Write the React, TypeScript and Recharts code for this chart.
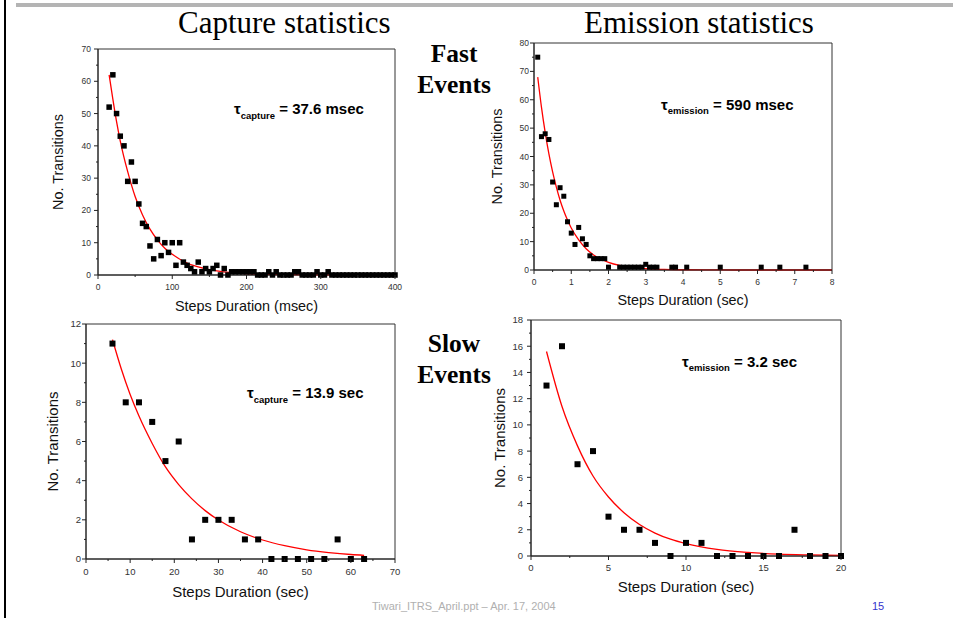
import React from 'react';
import { ComposedChart, Scatter, Line, XAxis, YAxis, ReferenceArea, Label } from 'recharts';

// ---------- Data ----------
// Capture statistics, fast events (msec)
const captureFastDuration = [15, 20, 25, 30, 35, 40, 45, 50, 55, 60, 65, 70, 75, 80, 85, 90, 95, 100, 105, 110, 115, 120, 125, 130, 135, 140, 145, 150, 155, 160, 165, 170, 175, 180, 185, 190, 195, 200, 205, 210, 215, 220, 225, 230, 235, 240, 245, 250, 255, 260, 265, 270, 275, 280, 285, 290, 295, 300, 305, 310, 315, 320, 325, 330, 335, 340, 345, 350, 355, 360, 365, 370, 375, 380, 385, 390, 395, 400];
const captureFastCount = [52, 62, 50, 43, 40, 29, 35, 29, 22, 16, 15, 9, 5, 11, 6, 10, 7, 10, 3, 10, 4, 3, 2, 1, 4, 1, 2, 1, 2, 3, 0, 2, 0, 1, 1, 1, 1, 1, 1, 1, 0, 0, 0, 1, 0, 1, 0, 0, 0, 0, 1, 1, 0, 0, 0, 0, 1, 0, 0, 1, 0, 0, 0, 0, 0, 0, 0, 0, 0, 0, 0, 0, 0, 0, 0, 0, 0, 0];
const captureFastFitX = [15, 20, 25, 30, 40, 50, 60, 70, 80, 90, 100, 120, 140, 160, 180, 200, 250, 300, 350, 400];
const captureFastFitY = [62, 54.5, 47.5, 41.5, 32, 24.3, 18.6, 14.2, 10.9, 8.3, 6.4, 3.7, 2.2, 1.3, 0.75, 0.44, 0.12, 0.03, 0.01, 0];

// Emission statistics, fast events (sec)
const emissionFastDuration = [0.1, 0.2, 0.3, 0.4, 0.5, 0.6, 0.7, 0.8, 0.9, 1.0, 1.1, 1.2, 1.3, 1.4, 1.5, 1.6, 1.7, 1.8, 1.9, 2.0, 2.3, 2.4, 2.5, 2.6, 2.7, 2.8, 2.9, 3.0, 3.1, 3.2, 3.3, 3.7, 3.8, 4.1, 5.0, 6.1, 6.6, 7.3];
const emissionFastCount = [75, 47, 48, 46, 31, 23, 29, 26, 17, 13, 9, 15, 11, 9, 5, 4, 4, 4, 4, 1, 1, 1, 1, 1, 1, 1, 1, 2, 1, 1, 1, 1, 1, 1, 1, 1, 1, 1];
const emissionFastFitX = [0.1, 0.2, 0.3, 0.4, 0.5, 0.6, 0.7, 0.8, 0.9, 1.0, 1.2, 1.4, 1.6, 1.8, 2.0, 2.3, 2.6, 3.0, 3.5, 4, 5, 6, 7, 8];
const emissionFastFitY = [68, 57.4, 48.5, 40.9, 34.6, 29.2, 24.6, 20.8, 17.6, 14.8, 10.6, 7.5, 5.3, 3.8, 2.7, 1.6, 0.98, 0.5, 0.2, 0.09, 0.02, 0, 0, 0];

// Capture statistics, slow events (sec)
const captureSlowDuration = [6, 9, 12, 15, 18, 21, 24, 27, 30, 33, 36, 39, 42, 45, 48, 51, 54, 57, 60, 63];
const captureSlowCount = [11, 8, 8, 7, 5, 6, 1, 2, 2, 2, 1, 1, 0, 0, 0, 0, 0, 1, 0, 0];
const captureSlowFitX = [6, 8, 10, 12, 15, 18, 21, 24, 27, 30, 35, 40, 45, 50, 55, 60, 63];
const captureSlowFitY = [11.2, 9.7, 8.4, 7.3, 5.9, 4.7, 3.8, 3.07, 2.47, 1.99, 1.39, 0.97, 0.68, 0.47, 0.33, 0.23, 0.19];

// Emission statistics, slow events (sec)
const emissionSlowDuration = [1, 2, 3, 4, 5, 6, 7, 8, 9, 10, 11, 12, 13, 14, 15, 16, 17, 18, 19, 20];
const emissionSlowCount = [13, 16, 7, 8, 3, 2, 2, 1, 0, 1, 1, 0, 0, 0, 0, 0, 2, 0, 0, 0];
const emissionSlowFitX = [1, 2, 3, 4, 5, 6, 7, 8, 9, 10, 12, 14, 16, 18, 20];
const emissionSlowFitY = [15.6, 11.4, 8.4, 6.1, 4.5, 3.3, 2.4, 1.75, 1.28, 0.94, 0.5, 0.27, 0.14, 0.08, 0.04];

// Ticks
const captureFastXMajor = [0, 100, 200, 300, 400];
const captureFastXMinor = [50, 150, 250, 350];
const captureFastYMajor = [0, 10, 20, 30, 40, 50, 60, 70];
const captureFastYMinor = [5, 15, 25, 35, 45, 55, 65];

const emissionFastXMajor = [0, 1, 2, 3, 4, 5, 6, 7, 8];
const emissionFastXMinor = [0.5, 1.5, 2.5, 3.5, 4.5, 5.5, 6.5, 7.5];
const emissionFastYMajor = [0, 10, 20, 30, 40, 50, 60, 70, 80];
const emissionFastYMinor = [5, 15, 25, 35, 45, 55, 65, 75];

const captureSlowXMajor = [0, 10, 20, 30, 40, 50, 60, 70];
const captureSlowXMinor = [5, 15, 25, 35, 45, 55, 65];
const captureSlowYMajor = [0, 2, 4, 6, 8, 10, 12];
const captureSlowYMinor = [1, 3, 5, 7, 9, 11];

const emissionSlowXMajor = [0, 5, 10, 15, 20];
const emissionSlowXMinor = [2.5, 7.5, 12.5, 17.5];
const emissionSlowYMajor = [0, 2, 4, 6, 8, 10, 12, 14, 16, 18];
const emissionSlowYMinor = [1, 3, 5, 7, 9, 11, 13, 15, 17];

const zip = (xs: number[], ys: number[]) => xs.map((x, i) => ({ x, y: ys[i] }));

const SANS = '"Liberation Sans", Arial, Helvetica, sans-serif';
const SERIF = '"Liberation Serif", "Times New Roman", serif';

const makeXTick = (majors: number[], fs: number, dy: number) => (props: any) => {
  const { x, y, payload } = props;
  const v = payload.value;
  const major = majors.includes(v);
  return (
    <g>
      <line x1={x} x2={x} y1={y} y2={y + (major ? 4 : 2)} stroke="#222" strokeWidth={1} />
      {major && (
        <text x={x} y={y + dy} textAnchor="middle" fontSize={fs} fill="#333" fontFamily={SANS}>
          {v}
        </text>
      )}
    </g>
  );
};

const makeYTick = (majors: number[], fs: number, gap: number) => (props: any) => {
  const { x, y, payload } = props;
  const v = payload.value;
  const major = majors.includes(v);
  return (
    <g>
      <line x1={x} x2={x - (major ? 4 : 2)} y1={y} y2={y} stroke="#222" strokeWidth={1} />
      {major && (
        <text x={x - gap} y={y} dy="0.36em" textAnchor="end" fontSize={fs} fill="#333" fontFamily={SANS}>
          {v}
        </text>
      )}
    </g>
  );
};

interface PanelProps {
  left: number;
  top: number;
  width: number;
  height: number;
  margin: { top: number; right: number; bottom: number; left: number };
  yAxisWidth: number;
  xAxisHeight: number;
  xDomain: [number, number];
  yDomain: [number, number];
  xMajor: number[];
  xMinor: number[];
  yMajor: number[];
  yMinor: number[];
  points: { x: number; y: number }[];
  fit: { x: number; y: number }[];
  xTitle: string;
  xTitleOffset: number;
  yTitleOffset: number;
  titleSize: number;
  tickSize: number;
  xTickDy: number;
  yTickGap: number;
  marker: number;
}

const Panel = (p: PanelProps) => {
  const half = p.marker / 2;
  return (
    <div style={{ position: 'absolute', left: p.left, top: p.top }}>
      <ComposedChart width={p.width} height={p.height} margin={p.margin}>
        <XAxis
          type="number"
          dataKey="x"
          domain={p.xDomain}
          ticks={[...p.xMajor, ...p.xMinor]}
          interval={0}
          tickSize={0}
          tickMargin={0}
          tickLine={false}
          axisLine={{ stroke: '#222' }}
          height={p.xAxisHeight}
          tick={makeXTick(p.xMajor, p.tickSize, p.xTickDy)}
        >
          <Label
            value={p.xTitle}
            position="insideBottom"
            offset={p.xTitleOffset}
            fontSize={p.titleSize}
            fill="#111"
            fontFamily={SANS}
          />
        </XAxis>
        <YAxis
          type="number"
          dataKey="y"
          domain={p.yDomain}
          ticks={[...p.yMajor, ...p.yMinor]}
          interval={0}
          tickSize={0}
          tickMargin={0}
          tickLine={false}
          axisLine={{ stroke: '#222' }}
          width={p.yAxisWidth}
          tick={makeYTick(p.yMajor, p.tickSize, p.yTickGap)}
        >
          <Label
            value="No. Transitions"
            angle={-90}
            position="insideLeft"
            offset={p.yTitleOffset}
            fontSize={p.titleSize}
            fill="#111"
            fontFamily={SANS}
            style={{ textAnchor: 'middle' }}
          />
        </YAxis>
        <ReferenceArea
          x1={p.xDomain[0]}
          x2={p.xDomain[1]}
          y1={p.yDomain[0]}
          y2={p.yDomain[1]}
          fill="none"
          stroke="#333"
          strokeWidth={1}
          ifOverflow="visible"
        />
        <Scatter
          data={p.points}
          dataKey="y"
          isAnimationActive={false}
          shape={(s: any) => (
            <rect x={s.cx - half} y={s.cy - half} width={p.marker} height={p.marker} fill="#000" />
          )}
        />
        <Line
          data={p.fit}
          dataKey="y"
          type="monotone"
          dot={false}
          activeDot={false}
          stroke="#ff0000"
          strokeWidth={1.3}
          isAnimationActive={false}
        />
      </ComposedChart>
    </div>
  );
};

const Tau = ({ x, y, sub, rest, dy }: { x: number; y: number; sub: string; rest: string; dy: number }) => (
  <text x={x} y={y} fontFamily={SANS} fontWeight="bold" fontSize={15} fill="#000">
    τ
    <tspan fontSize={9.5} dy={dy}>{sub}</tspan>
    <tspan fontSize={15} dy={-dy}>{rest}</tspan>
  </text>
);

export default function App() {
  return (
    <div
      style={{
        position: 'absolute',
        left: 0,
        top: 0,
        width: 953,
        height: 618,
        background: '#fff',
        overflow: 'hidden',
      }}
    >
      <Panel
        left={40}
        top={35}
        width={370}
        height={285}
        margin={{ top: 14, right: 15, bottom: 0, left: 0 }}
        yAxisWidth={58}
        xAxisHeight={45}
        xDomain={[0, 400]}
        yDomain={[0, 70]}
        xMajor={captureFastXMajor}
        xMinor={captureFastXMinor}
        yMajor={captureFastYMajor}
        yMinor={captureFastYMinor}
        points={zip(captureFastDuration, captureFastCount)}
        fit={zip(captureFastFitX, captureFastFitY)}
        xTitle="Steps Duration (msec)"
        xTitleOffset={9}
        yTitleOffset={18}
        titleSize={14.4}
        tickSize={8.5}
        xTickDy={15}
        yTickGap={7}
        marker={5.5}
      />
      <Panel
        left={480}
        top={30}
        width={365}
        height={285}
        margin={{ top: 13, right: 13, bottom: 0, left: 0 }}
        yAxisWidth={54}
        xAxisHeight={45}
        xDomain={[0, 8]}
        yDomain={[0, 80]}
        xMajor={emissionFastXMajor}
        xMinor={emissionFastXMinor}
        yMajor={emissionFastYMajor}
        yMinor={emissionFastYMinor}
        points={zip(emissionFastDuration, emissionFastCount)}
        fit={zip(emissionFastFitX, emissionFastFitY)}
        xTitle="Steps Duration (sec)"
        xTitleOffset={10}
        yTitleOffset={17}
        titleSize={14.4}
        tickSize={8.5}
        xTickDy={15}
        yTickGap={5}
        marker={5}
      />
      <Panel
        left={40}
        top={312}
        width={370}
        height={290}
        margin={{ top: 12, right: 15, bottom: 0, left: 0 }}
        yAxisWidth={46}
        xAxisHeight={43}
        xDomain={[0, 70]}
        yDomain={[0, 12]}
        xMajor={captureSlowXMajor}
        xMinor={captureSlowXMinor}
        yMajor={captureSlowYMajor}
        yMinor={captureSlowYMinor}
        points={zip(captureSlowDuration, captureSlowCount)}
        fit={zip(captureSlowFitX, captureSlowFitY)}
        xTitle="Steps Duration (sec)"
        xTitleOffset={5}
        yTitleOffset={13}
        titleSize={15}
        tickSize={9.5}
        xTickDy={16}
        yTickGap={5}
        marker={6}
      />
      <Panel
        left={480}
        top={308}
        width={375}
        height={290}
        margin={{ top: 12, right: 14, bottom: 0, left: 0 }}
        yAxisWidth={51}
        xAxisHeight={42}
        xDomain={[0, 20]}
        yDomain={[0, 18]}
        xMajor={emissionSlowXMajor}
        xMinor={emissionSlowXMinor}
        yMajor={emissionSlowYMajor}
        yMinor={emissionSlowYMinor}
        points={zip(emissionSlowDuration, emissionSlowCount)}
        fit={zip(emissionSlowFitX, emissionSlowFitY)}
        xTitle="Steps Duration (sec)"
        xTitleOffset={6}
        yTitleOffset={20}
        titleSize={15}
        tickSize={9.5}
        xTickDy={14.5}
        yTickGap={8}
        marker={6}
      />
      <svg
        width={953}
        height={618}
        style={{ position: 'absolute', left: 0, top: 0, pointerEvents: 'none' }}
      >
        <rect x={4} y={0} width={2} height={618} fill="#000" />
        <rect x={16} y={3} width={937} height={4} fill="#b4b4b4" />
        <text x={178} y={33} fontFamily={SERIF} fontSize={31} fill="#000">
          Capture statistics
        </text>
        <text x={584} y={33} fontFamily={SERIF} fontSize={31} fill="#000">
          Emission statistics
        </text>
        <text x={454} y={62} textAnchor="middle" fontFamily={SERIF} fontWeight="bold" fontSize={25.5} fill="#000">
          Fast
        </text>
        <text x={454} y={93} textAnchor="middle" fontFamily={SERIF} fontWeight="bold" fontSize={25.5} fill="#000">
          Events
        </text>
        <text x={454} y={352} textAnchor="middle" fontFamily={SERIF} fontWeight="bold" fontSize={25.5} fill="#000">
          Slow
        </text>
        <text x={454} y={383} textAnchor="middle" fontFamily={SERIF} fontWeight="bold" fontSize={25.5} fill="#000">
          Events
        </text>
        <Tau x={234} y={114} sub="capture" rest=" = 37.6 msec" dy={5} />
        <Tau x={661} y={110} sub="emission" rest=" = 590 msec" dy={4} />
        <Tau x={247} y={398} sub="capture" rest=" = 13.9 sec" dy={5} />
        <Tau x={682} y={367} sub="emission" rest=" = 3.2 sec" dy={4} />
        <text x={372} y={610} fontFamily={SANS} fontSize={11} fill="#b0b0b0">
          Tiwari_ITRS_April.ppt – Apr. 17, 2004
        </text>
        <text x={872} y={610} fontFamily={SANS} fontSize={11} fill="#3333cc">
          15
        </text>
      </svg>
    </div>
  );
}
